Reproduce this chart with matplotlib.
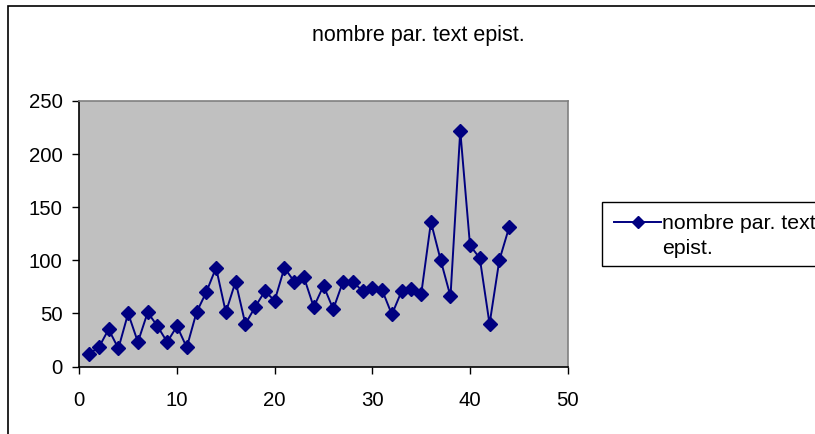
import matplotlib
matplotlib.use("Agg")
import matplotlib.pyplot as plt
from matplotlib.patches import Rectangle
from matplotlib.lines import Line2D

plt.rcParams["font.family"] = ["Liberation Sans", "DejaVu Sans"]

x_values = list(range(1, 45))
counts = [12, 18, 35, 17, 50, 23, 51, 38, 23, 38,
          18, 51, 70, 93, 51, 80, 40, 56, 71, 62,
          93, 80, 84, 56, 76, 54, 80, 80, 71, 74,
          72, 49, 71, 73, 68, 136, 100, 66, 222, 114,
          102, 40, 100, 131]
series_label = "nombre par. text epist."
legend_lines = ["nombre par. text", "epist."]
title_text = "nombre par. text epist."
y_ticks = [0, 50, 100, 150, 200, 250]
x_ticks = [0, 10, 20, 30, 40, 50]

W, H = 815, 434
fig = plt.figure(figsize=(W / 100, H / 100), dpi=100)
fig.patch.set_facecolor("white")

# outer chart frame (runs off the right and bottom edges)
fig.patches.append(Rectangle((7.5 / W, -0.1), 1.2, 1 - 5.5 / H + 0.1,
                             transform=fig.transFigure, fill=False,
                             edgecolor="black", linewidth=1.2))

left, right = 79.3 / W, 567.7 / W
bottom, top = 1 - 366.5 / H, 1 - 101 / H
ax = fig.add_axes([left, bottom, right - left, top - bottom])
ax.set_facecolor("#C0C0C0")

line, = ax.plot(x_values, counts, color="#000080", linewidth=1.4,
                marker="D", markersize=7, markerfacecolor="#000080",
                markeredgecolor="#000080", label=series_label)

ax.set_xlim(0, 50)
ax.set_ylim(0, 250)
ax.set_xticks(x_ticks)
ax.set_yticks(y_ticks)
ax.tick_params(axis="both", direction="out", length=5, width=1,
               labelsize=14.7, colors="black")
ax.tick_params(axis="x", pad=13)
ax.tick_params(axis="y", pad=7)
for side in ("left", "bottom"):
    ax.spines[side].set_color("black")
    ax.spines[side].set_linewidth(1.2)
for side in ("top", "right"):
    ax.spines[side].set_color("#808080")
    ax.spines[side].set_linewidth(1.2)

fig.text(418 / W, 1 - 35 / H, title_text, ha="center", va="center",
         fontsize=15.5, color="black")

# legend box, wider than the figure so it runs off the right edge
box_left, box_top, box_bottom = 601.7, 201.7, 265.7
fig.patches.append(Rectangle((box_left / W, 1 - box_bottom / H),
                             (W + 50 - box_left) / W,
                             (box_bottom - box_top) / H,
                             transform=fig.transFigure, facecolor="white",
                             edgecolor="black", linewidth=1.0, zorder=1))

# legend: the series key sits on the first line of the wrapped label
key = Line2D([], [], color="#000080", linewidth=1.4, marker="D",
             markersize=6, markerfacecolor="#000080", markeredgecolor="#000080")
blank = Line2D([], [], linestyle="none", marker=None)
leg = fig.legend(handles=[key, blank], labels=legend_lines,
                 loc="upper left", bbox_to_anchor=(box_left / W, 1 - box_top / H),
                 bbox_transform=fig.transFigure, fontsize=15.3,
                 frameon=False, borderpad=0.6,
                 labelspacing=0.28,
                 handlelength=2.2, handletextpad=0.05, borderaxespad=0)

fig.savefig("out.png", dpi=100)
